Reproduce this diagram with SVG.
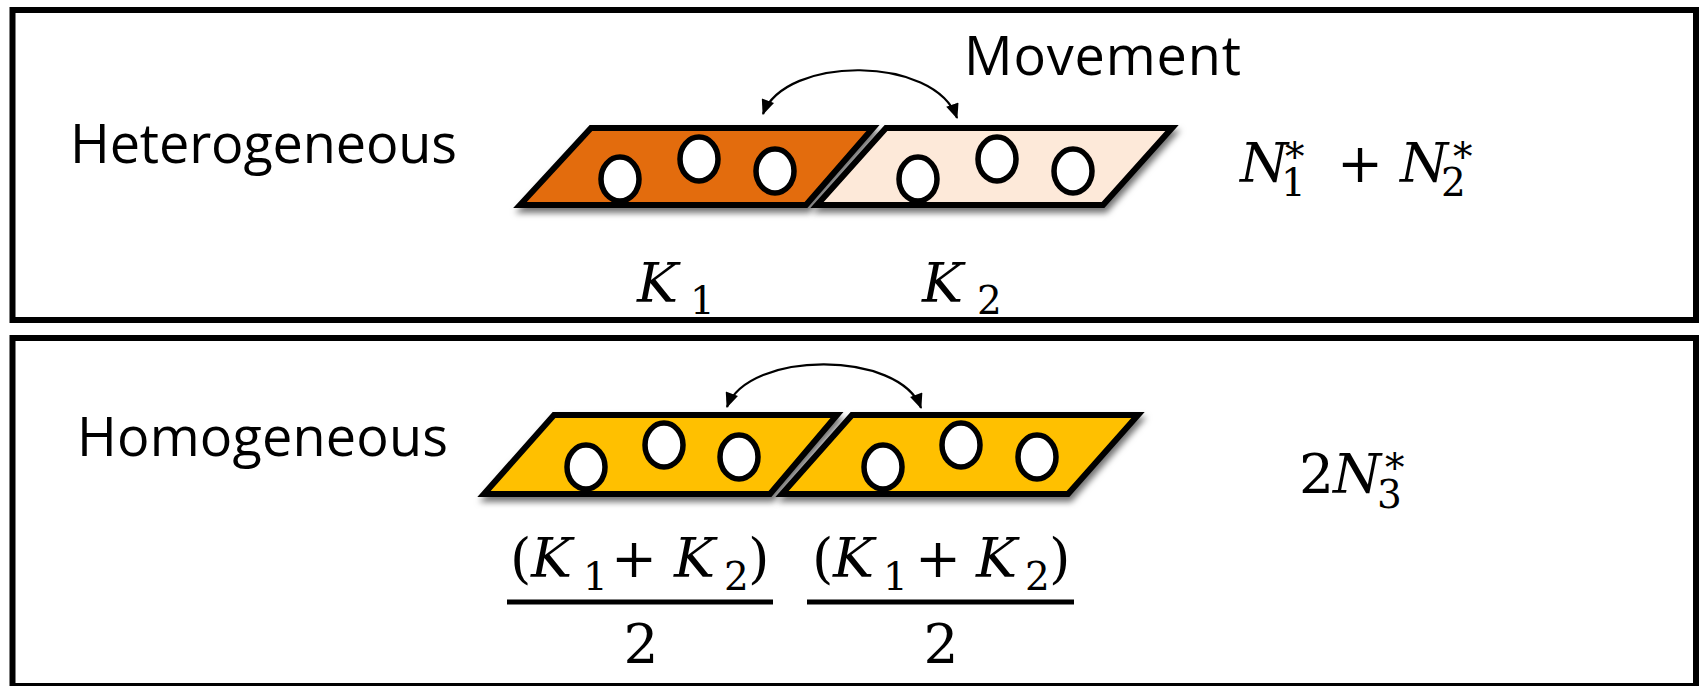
<svg xmlns="http://www.w3.org/2000/svg" width="1703" height="686" viewBox="0 0 1703 686">
<style>
.box{fill:none;stroke:#000;stroke-width:6}
.lbl{font-family:"Open Sans","Liberation Sans",sans-serif;font-size:54px;fill:#000}
.m{font-family:"DejaVu Serif","Liberation Serif",serif;font-size:55px;fill:#000}
.i{font-style:italic}
.s{font-size:39px}
.para{stroke:#000;stroke-width:6;stroke-linejoin:miter}
.dot{fill:#fff;stroke:#000;stroke-width:5.5}
.arc{fill:none;stroke:#000;stroke-width:2.2}
.bar{stroke:#000;stroke-width:5}
</style>
<defs>
<filter id="sh" x="-10%" y="-20%" width="120%" height="160%">
<feDropShadow dx="2" dy="5" stdDeviation="3" flood-color="#000" flood-opacity="0.55"/>
</filter>
<marker id="ah" viewBox="0 0 14 12" refX="13" refY="6" markerWidth="16" markerHeight="13" markerUnits="userSpaceOnUse" orient="auto-start-reverse">
<path d="M0,0 L14,6 L0,12 z" fill="#000"/>
</marker>
</defs>
<rect width="1703" height="686" fill="#fff"/>

<g id="panel-heterogeneous">
<rect class="box" x="12.5" y="10" width="1683.5" height="310"/>
<text class="lbl" x="70" y="163" textLength="387" lengthAdjust="spacing">Heterogeneous</text>
<text class="lbl" x="964" y="75" textLength="277" lengthAdjust="spacing">Movement</text>
</g>

<g id="patch-k1" filter="url(#sh)">
<polygon class="para" fill="#E36C0A" points="520,205 591,128 873,128 806,205"/>
<ellipse class="dot" cx="620" cy="179" rx="19" ry="22"/>
<ellipse class="dot" cx="699" cy="159" rx="19" ry="22"/>
<ellipse class="dot" cx="775" cy="171" rx="19" ry="22"/>
</g>
<g id="patch-k2" filter="url(#sh)">
<polygon class="para" fill="#FDE9D9" points="817,205 886,128 1172,128 1103,205"/>
<ellipse class="dot" cx="918" cy="179" rx="19" ry="22"/>
<ellipse class="dot" cx="997" cy="159" rx="19" ry="22"/>
<ellipse class="dot" cx="1073" cy="171" rx="19" ry="22"/>
</g>

<g id="label-k1"><text class="m"><tspan class="i" x="637" y="302">K</tspan><tspan class="s" x="690" y="314">1</tspan></text></g>
<g id="label-k2"><text class="m"><tspan class="i" x="922" y="302">K</tspan><tspan class="s" x="977" y="314">2</tspan></text></g>
<g id="label-n1n2"><text class="m"><tspan class="i" x="1240" y="182">N</tspan><tspan class="s" x="1281" y="196">1</tspan><tspan class="s" x="1285" y="170">*</tspan><tspan x="1337" y="182">+</tspan><tspan class="i" x="1400" y="182">N</tspan><tspan class="s" x="1441" y="196">2</tspan><tspan class="s" x="1453" y="170">*</tspan></text></g>

<g id="panel-homogeneous">
<rect class="box" x="12.5" y="338" width="1683.5" height="348"/>
<text class="lbl" x="77" y="456" textLength="371" lengthAdjust="spacing">Homogeneous</text>
</g>

<g id="patch-avg-left" filter="url(#sh)">
<polygon class="para" fill="#FFC000" points="484,494 554,415 837,415 770,494"/>
<ellipse class="dot" cx="586" cy="467" rx="19" ry="22"/>
<ellipse class="dot" cx="664" cy="445" rx="19" ry="22"/>
<ellipse class="dot" cx="739" cy="457" rx="19" ry="22"/>
</g>
<g id="patch-avg-right" filter="url(#sh)">
<polygon class="para" fill="#FFC000" points="782,494 852,415 1138,415 1068,494"/>
<ellipse class="dot" cx="883" cy="467" rx="19" ry="22"/>
<ellipse class="dot" cx="961" cy="445" rx="19" ry="22"/>
<ellipse class="dot" cx="1037" cy="457" rx="19" ry="22"/>
</g>

<g id="label-frac-left">
<text class="m"><tspan x="510" y="577">(</tspan><tspan class="i" x="531" y="577">K</tspan><tspan class="s" x="583" y="590">1</tspan><tspan x="611" y="577">+</tspan><tspan class="i" x="674" y="577">K</tspan><tspan class="s" x="724" y="590">2</tspan><tspan x="748" y="577">)</tspan></text>
<line class="bar" x1="507" y1="602" x2="773" y2="602"/>
<text class="m" x="641" y="663" text-anchor="middle">2</text>
</g>
<g id="label-frac-right">
<text class="m"><tspan x="812" y="577">(</tspan><tspan class="i" x="833" y="577">K</tspan><tspan class="s" x="883" y="590">1</tspan><tspan x="915" y="577">+</tspan><tspan class="i" x="976" y="577">K</tspan><tspan class="s" x="1025" y="590">2</tspan><tspan x="1049" y="577">)</tspan></text>
<line class="bar" x1="807" y1="602" x2="1074" y2="602"/>
<text class="m" x="941" y="663" text-anchor="middle">2</text>
</g>
<g id="label-2n3"><text class="m"><tspan x="1299" y="493">2</tspan><tspan class="i" x="1333" y="493">N</tspan><tspan class="s" x="1377" y="508">3</tspan><tspan class="s" x="1385" y="481">*</tspan></text></g>

<g id="connectors">
<path class="arc" d="M763,114 C785,55 935,55 957,118" marker-start="url(#ah)" marker-end="url(#ah)"/>
<path class="arc" d="M727,407 C748,350 900,350 921,408" marker-start="url(#ah)" marker-end="url(#ah)"/>
</g>
</svg>
